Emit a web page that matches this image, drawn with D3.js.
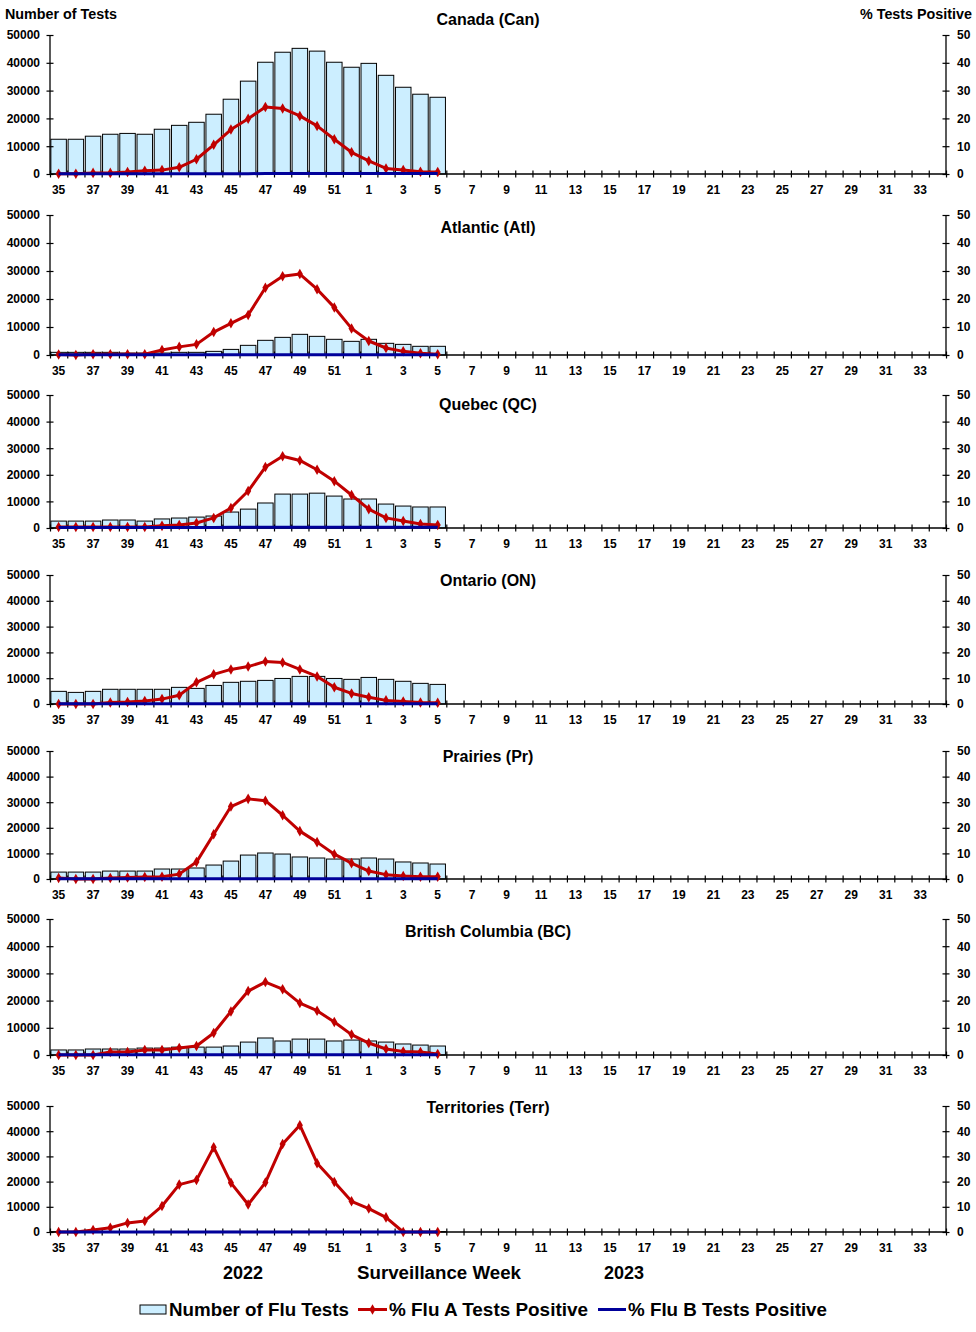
<!DOCTYPE html>
<html><head><meta charset="utf-8">
<script src="https://cdn.jsdelivr.net/npm/d3@7"></script>
<style>
body{margin:0;background:#fff}
text{font-family:"Liberation Sans",Arial,sans-serif;font-weight:bold;fill:#000}
</style>
</head><body><svg id="c" width="976" height="1332"></svg>
<script>
// ---------- DATA ----------
const weeks = [35,36,37,38,39,40,41,42,43,44,45,46,47,48,49,50,51,52,1,2,3,4,5,6,7,8,9,10,11,12,13,14,15,16,17,18,19,20,21,22,23,24,25,26,27,28,29,30,31,32,33,34];
const weekLabels = [35,37,39,41,43,45,47,49,51,1,3,5,7,9,11,13,15,17,19,21,23,25,27,29,31,33];
const dataWeeks = [35,36,37,38,39,40,41,42,43,44,45,46,47,48,49,50,51,52,1,2,3,4,5];
const leftTicks = [0,10000,20000,30000,40000,50000];
const rightTicks = [0,10,20,30,40,50];
const regionNames = ["Canada (Can)","Atlantic (Atl)","Quebec (QC)","Ontario (ON)","Prairies (Pr)","British Columbia (BC)","Territories (Terr)"];

const testsCan  = [12500,12500,13600,14300,14600,14300,16100,17500,18600,21500,26900,33400,40200,43800,45200,44200,40200,38400,39800,35500,31200,28700,27600];
const testsAtl  = [950,950,950,950,700,700,700,950,950,1300,2000,3450,5240,6300,7380,6660,5600,4880,5600,4170,3800,3100,3100];
const testsQC   = [2600,2600,2600,3000,3000,2600,3400,3750,4100,4500,6000,7100,9400,12750,12750,13100,12000,10900,10900,9000,8250,7900,7900];
const testsON   = [4900,4500,4900,5700,5700,5700,5700,6450,6050,7200,8400,8800,9150,9900,10700,10700,9900,9550,10300,9550,8800,8000,7600];
const testsPr   = [2700,2700,2700,3100,3100,3100,3900,3900,4300,5450,7000,9350,10150,9750,8600,8200,7800,7800,8200,7800,6650,6250,5850];
const testsBC   = [1850,1850,2200,2200,2200,2550,2550,2900,2900,2900,3300,4750,6250,5150,5850,5850,5150,5500,5150,4750,4050,3650,3300];
const testsTerr = [120,110,130,140,150,160,170,180,200,230,240,220,210,230,250,260,240,220,230,210,190,170,160];

const fluACan  = [0.1,0.1,0.4,0.4,0.7,1.2,1.4,2.4,5.3,10.5,16.0,19.9,24.1,23.6,20.9,17.3,12.5,7.8,4.7,2.0,1.4,0.8,0.7];
const fluAAtl  = [0.2,0.0,0.3,0.3,0.3,0.3,1.8,2.9,3.8,8.2,11.3,14.3,24.0,28.1,28.9,23.5,17.0,9.5,5.0,2.5,1.3,0.6,0.3];
const fluAQC   = [0.4,0.4,0.4,0.4,0.4,0.4,0.8,1.1,1.9,3.8,7.5,13.9,22.9,27.0,25.4,21.9,17.6,12.4,7.1,3.8,2.6,1.5,1.1];
const fluAON   = [0.0,0.0,0.0,0.6,0.8,1.2,1.9,3.4,8.4,11.5,13.4,14.5,16.5,16.1,13.4,10.7,6.5,4.1,2.6,1.4,1.0,0.6,0.5];
const fluAPr   = [0.4,0.0,0.0,0.4,0.6,0.8,0.9,1.9,6.6,17.5,28.3,31.3,30.6,24.9,18.7,14.4,9.7,6.2,3.1,1.7,1.2,0.9,0.9];
const fluABC   = [0.0,0.0,0.0,1.1,1.1,1.8,1.8,2.6,3.3,8.1,16.0,23.5,26.8,24.2,19.1,16.3,12.1,7.5,4.4,2.2,1.3,1.1,0.4];
const fluATerr = [0.0,0.0,0.8,1.7,3.6,4.4,10.3,18.8,20.6,33.6,19.5,10.9,19.6,34.9,42.4,27.3,19.8,12.2,9.3,5.8,0.0,0.0,0.0];

const fluBCan  = [0.1,0.1,0.1,0.1,0.1,0.1,0.1,0.1,0.1,0.1,0.1,0.1,0.2,0.2,0.2,0.2,0.2,0.2,0.2,0.2,0.2,0.2,0.2];
const fluBAtl  = [0.1,0.1,0.1,0.1,0.1,0.1,0.1,0.1,0.1,0.1,0.1,0.1,0.1,0.1,0.1,0.1,0.1,0.1,0.1,0.1,0.1,0.1,0.1];
const fluBQC   = [0.2,0.2,0.2,0.2,0.2,0.2,0.2,0.2,0.2,0.2,0.3,0.3,0.3,0.3,0.3,0.3,0.3,0.3,0.3,0.3,0.3,0.3,0.3];
const fluBON   = [0.1,0.1,0.1,0.1,0.1,0.1,0.1,0.1,0.1,0.1,0.1,0.1,0.1,0.1,0.1,0.1,0.1,0.1,0.1,0.1,0.1,0.1,0.1];
const fluBPr   = [0.1,0.1,0.1,0.1,0.1,0.1,0.1,0.1,0.1,0.1,0.1,0.1,0.1,0.1,0.1,0.1,0.1,0.1,0.1,0.1,0.1,0.1,0.1];
const fluBBC   = [0.1,0.1,0.1,0.1,0.1,0.1,0.1,0.1,0.1,0.1,0.1,0.1,0.1,0.1,0.1,0.1,0.1,0.1,0.1,0.1,0.1,0.1,0.1];
const fluBTerr = [0.0,0.0,0.0,0.0,0.0,0.0,0.0,0.0,0.0,0.0,0.0,0.0,0.0,0.0,0.0,0.0,0.0,0.0,0.0,0.0,0.0,0.0,0.0];

const tests = [testsCan,testsAtl,testsQC,testsON,testsPr,testsBC,testsTerr];
const fluA  = [fluACan,fluAAtl,fluAQC,fluAON,fluAPr,fluABC,fluATerr];
const fluB  = [fluBCan,fluBAtl,fluBQC,fluBON,fluBPr,fluBBC,fluBTerr];

// ---------- LAYOUT ----------
const panelLayout = [
  {top:35,  zero:174,  titleY:25},
  {top:215, zero:355,  titleY:233},
  {top:395, zero:528,  titleY:410},
  {top:575, zero:704,  titleY:586},
  {top:751, zero:879,  titleY:762},
  {top:919, zero:1055, titleY:937},
  {top:1106,zero:1232, titleY:1113}
];
const X0 = 50, X1 = 946;
const RED = "#c00000", BLUE = "#00009a", BARFILL = "#cceeff";

const svg = d3.select("#c");

const x = d3.scaleBand().domain(weeks).range([X0, X1]).paddingInner(0.1).paddingOuter(0.05);
const xb = d3.scaleLinear().domain([0, weeks.length]).range([X0, X1]);

const diamond = d3.symbol().type(d3.symbolDiamond).size(32);

panelLayout.forEach((L, pi) => {
  const g = svg.append("g");
  const yL = d3.scaleLinear().domain([0, 50000]).range([L.zero, L.top]);
  const yR = d3.scaleLinear().domain([0, 50]).range([L.zero, L.top]);
  const rows = dataWeeks.map((w, i) => ({w, t: tests[pi][i], a: fluA[pi][i], b: fluB[pi][i]}));

  // bars
  g.selectAll("rect.bar").data(rows).enter().append("rect")
    .attr("x", d => x(d.w)).attr("width", x.bandwidth())
    .attr("y", d => yL(d.t)).attr("height", d => L.zero - yL(d.t))
    .attr("fill", BARFILL).attr("stroke", "#000").attr("stroke-width", 1);

  // left axis
  const la = g.append("g").attr("transform", `translate(${X0 + 3.5},0)`)
    .call(d3.axisLeft(yL).tickValues(leftTicks).tickSize(7).tickPadding(6.5).tickFormat(d3.format("d")));
  la.select(".domain").remove();
  g.append("line").attr("x1", X0).attr("x2", X0).attr("y1", L.top).attr("y2", L.zero).attr("stroke", "#000").attr("stroke-width", 1.3);

  // right axis
  const ra = g.append("g").attr("transform", `translate(${X1 - 3.5},0)`)
    .call(d3.axisRight(yR).tickValues(rightTicks).tickSize(7).tickPadding(7.5));
  ra.select(".domain").remove();
  g.append("line").attr("x1", X1).attr("x2", X1).attr("y1", L.top).attr("y2", L.zero).attr("stroke", "#000").attr("stroke-width", 1.3);

  // x axis boundary ticks
  const bt = g.append("g").attr("transform", `translate(0,${L.zero - 3.5})`)
    .call(d3.axisBottom(xb).tickValues(d3.range(weeks.length + 1)).tickSize(7).tickFormat(""));
  bt.select(".domain").remove();
  // x labels
  const xa = g.append("g").attr("transform", `translate(0,${L.zero})`)
    .call(d3.axisBottom(x).tickValues(weekLabels).tickSize(0).tickPadding(11.5));
  xa.select(".domain").remove();
  g.append("line").attr("x1", X0).attr("x2", X1).attr("y1", L.zero).attr("y2", L.zero).attr("stroke", "#000").attr("stroke-width", 1.3);

  g.selectAll(".tick text").attr("font-size", 12).attr("font-family", '"Liberation Sans",Arial,sans-serif').attr("font-weight", "bold").attr("fill", "#000");
  g.selectAll(".tick line").attr("stroke", "#000").attr("stroke-width", 1.2);

  // flu A line
  const cx = d => x(d.w) + x.bandwidth() / 2;
  g.append("path").datum(rows)
    .attr("d", d3.line().x(cx).y(d => yR(d.a)))
    .attr("fill", "none").attr("stroke", RED).attr("stroke-width", 3).attr("stroke-linejoin", "round");
  g.selectAll("path.mk").data(rows).enter().append("path")
    .attr("d", diamond).attr("transform", d => `translate(${cx(d)},${yR(d.a)})`).attr("fill", RED);
  // flu B line
  g.append("path").datum(rows)
    .attr("d", d3.line().x(cx).y(d => yR(d.b)))
    .attr("fill", "none").attr("stroke", BLUE).attr("stroke-width", 3);

  // title
  g.append("text").attr("x", 488).attr("y", L.titleY).attr("text-anchor", "middle")
    .attr("font-size", 16).text(regionNames[pi]);
});

// axis titles
svg.append("text").attr("x", 5).attr("y", 19).attr("font-size", 14)
  .attr("textLength", 112).attr("lengthAdjust", "spacingAndGlyphs").text("Number of Tests");
svg.append("text").attr("x", 860).attr("y", 19).attr("font-size", 14)
  .attr("textLength", 112).attr("lengthAdjust", "spacingAndGlyphs").text("%  Tests Positive");

// bottom labels
svg.append("text").attr("x", 243).attr("y", 1279).attr("font-size", 18).attr("text-anchor", "middle").text("2022");
svg.append("text").attr("x", 439).attr("y", 1279).attr("font-size", 18).attr("text-anchor", "middle")
  .attr("textLength", 164).attr("lengthAdjust", "spacingAndGlyphs").text("Surveillance Week");
svg.append("text").attr("x", 624).attr("y", 1279).attr("font-size", 18).attr("text-anchor", "middle").text("2023");

// legend
const lg = svg.append("g");
lg.append("rect").attr("x", 140).attr("y", 1305).attr("width", 26).attr("height", 9).attr("fill", BARFILL).attr("stroke", "#000");
lg.append("text").attr("x", 169).attr("y", 1316).attr("font-size", 18).attr("textLength", 180).attr("lengthAdjust", "spacingAndGlyphs").text("Number of Flu Tests");
lg.append("line").attr("x1", 358).attr("x2", 387).attr("y1", 1309.5).attr("y2", 1309.5).attr("stroke", RED).attr("stroke-width", 3);
lg.append("path").attr("d", diamond).attr("transform", "translate(372.5,1309.5)").attr("fill", RED);
lg.append("text").attr("x", 389).attr("y", 1316).attr("font-size", 18).attr("textLength", 199).attr("lengthAdjust", "spacingAndGlyphs").text("% Flu A Tests Positive");
lg.append("line").attr("x1", 598).attr("x2", 626).attr("y1", 1309.5).attr("y2", 1309.5).attr("stroke", BLUE).attr("stroke-width", 3);
lg.append("text").attr("x", 628).attr("y", 1316).attr("font-size", 18).attr("textLength", 199).attr("lengthAdjust", "spacingAndGlyphs").text("% Flu B Tests Positive");
</script>
</body></html>
